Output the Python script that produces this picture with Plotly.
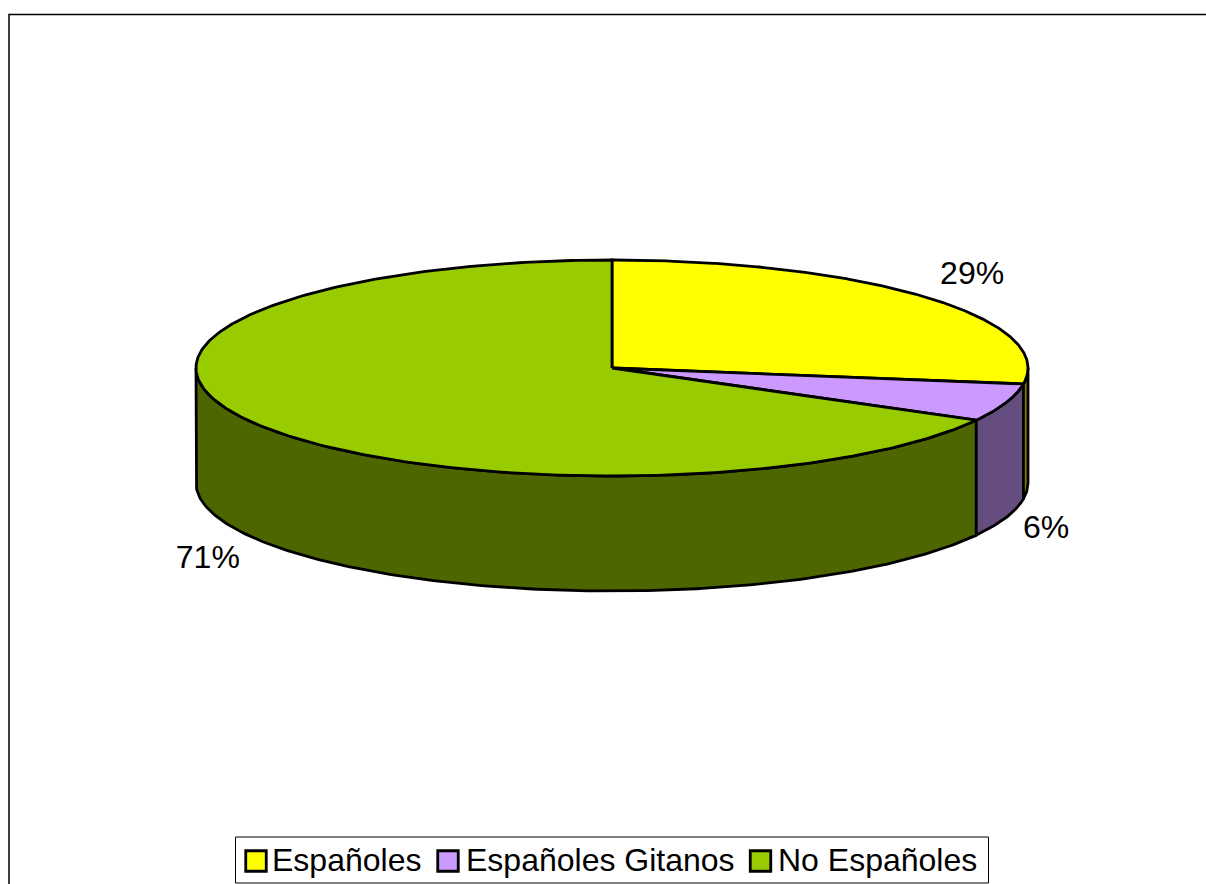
import numpy as np
import plotly.graph_objects as go

categories = ["Españoles", "Españoles Gitanos", "No Españoles"]
values = [29, 6, 71]
top_colors = ["#FFFF00", "#CC99FF", "#99CC00"]
side_colors = ["#808000", "#664D80", "#4D6600"]
label_offsets = [(45, -22), (40, 12), (-46, 22)]
legend_swatch_x = [256, 448, 760.5]
legend_text_x = [272, 466, 778]

PAGE_W, PAGE_H = 1206, 884
W, H = PAGE_W, PAGE_H
CX, CY, RX, RY, DEPTH = 612, 368, 416, 108, 115
LEGEND_Y = 863
LINE = dict(color="black", width=2.8)
FONT = "Liberation Sans, Arial, sans-serif"

total = sum(values)
edges = np.concatenate([[0], np.cumsum(values)]) / total * 2 * np.pi


def rim(t):
    return CX + RX * np.sin(t), CY - RY * np.cos(t)


fig = go.Figure()

# side walls, only the part of each slice facing the viewer
for i in [2, 1, 0]:
    a = max(edges[i], np.pi / 2)
    b = min(edges[i + 1], 3 * np.pi / 2)
    if b <= a:
        continue
    t = np.linspace(a, b, 200)
    x, y = rim(t)
    fig.add_trace(go.Scatter(
        x=np.concatenate([x, x[::-1], x[:1]]),
        y=np.concatenate([y, y[::-1] + DEPTH, y[:1]]),
        mode="lines", fill="toself", fillcolor=side_colors[i],
        line=LINE, showlegend=False, hoverinfo="skip"))

# top faces
for i in range(3):
    t = np.linspace(edges[i], edges[i + 1], 300)
    x, y = rim(t)
    fig.add_trace(go.Scatter(
        x=np.concatenate([[CX], x, [CX]]),
        y=np.concatenate([[CY], y, [CY]]),
        mode="lines", fill="toself", fillcolor=top_colors[i],
        line=LINE, name=categories[i], showlegend=False, hoverinfo="skip"))

# percentage labels, anchored on the rim at each slice's mid angle
for i in range(3):
    mid = (edges[i] + edges[i + 1]) / 2
    x, y = rim(mid)
    if np.cos(mid) < 0:
        y += DEPTH
    dx, dy = label_offsets[i]
    fig.add_trace(go.Scatter(
        x=[x + dx], y=[y + dy], mode="text", text=[f"{values[i]}%"],
        textposition="middle center",
        textfont=dict(family=FONT, size=32, color="black"),
        showlegend=False, hoverinfo="skip"))

# legend, drawn to match the boxed key of the reference
fig.add_trace(go.Scatter(
    x=legend_swatch_x, y=[861] * 3, mode="markers",
    marker=dict(symbol="square", size=20.5, color=top_colors,
                line=dict(color="black", width=2.8)),
    showlegend=False, hoverinfo="skip"))
fig.add_trace(go.Scatter(
    x=legend_text_x, y=[LEGEND_Y] * 3, mode="text", text=categories,
    textposition="middle right",
    textfont=dict(family=FONT, size=32, color="black"),
    showlegend=False, hoverinfo="skip"))

fig.update_layout(
    width=W, height=H,
    margin=dict(l=0, r=0, t=0, b=0),
    paper_bgcolor="white", plot_bgcolor="white",
    showlegend=False,
    xaxis=dict(range=[0, PAGE_W], visible=False, fixedrange=True),
    yaxis=dict(range=[PAGE_H, 0], visible=False, fixedrange=True),
    shapes=[
        dict(type="path", xref="x", yref="y", layer="below",
             path=f"M 9,{PAGE_H} L 9,14.5 L {PAGE_W},14.5",
             line=dict(color="black", width=1.5)),
        dict(type="rect", xref="x", yref="y", layer="below",
             x0=235.5, x1=988.5, y0=837, y1=883,
             fillcolor="white", line=dict(color="black", width=1)),
    ],
)

fig.write_html("out.html", config=dict(displayModeBar=False),
               post_script="document.body.style.margin='0';")
